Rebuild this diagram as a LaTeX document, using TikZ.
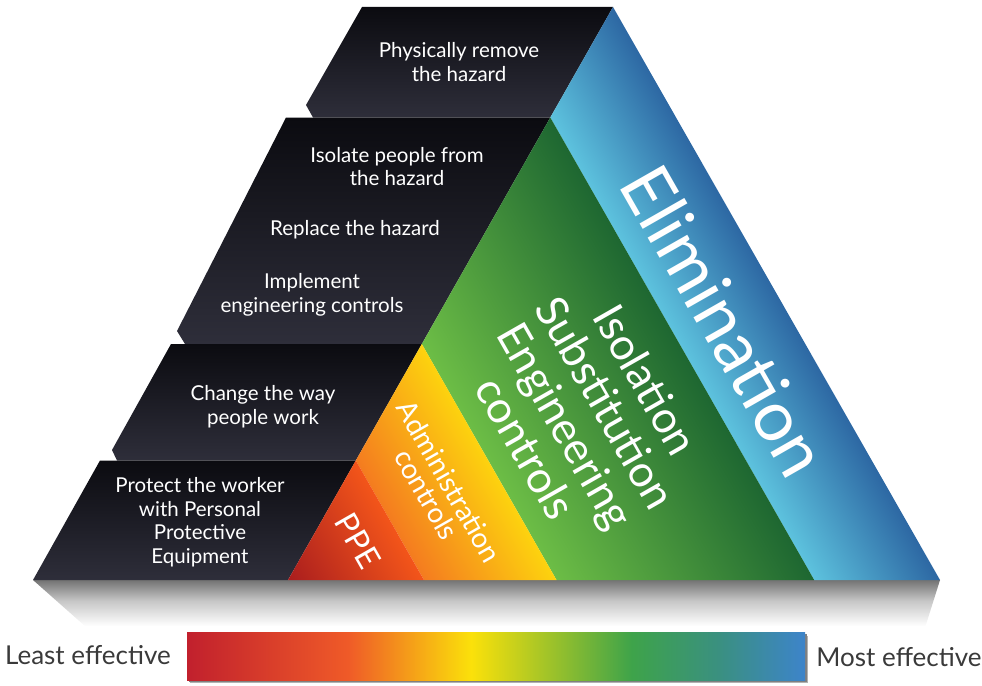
\documentclass[tikz,border=0pt]{standalone}
\usepackage{fontspec}
\setmainfont{Lato}

\definecolor{facetop}{HTML}{0B0B10}
\definecolor{facebot}{HTML}{2E2E3A}
\definecolor{elimin}{HTML}{5EC4DF}
\definecolor{elimout}{HTML}{2C66A2}
\definecolor{engin}{HTML}{6DBE46}
\definecolor{engout}{HTML}{1D6631}
\definecolor{admin}{HTML}{F47A20}
\definecolor{adminout}{HTML}{FDD40E}
\definecolor{ppein}{HTML}{A81C1E}
\definecolor{ppeout}{HTML}{F4561A}
\definecolor{barred}{HTML}{C1202D}
\definecolor{barorange}{HTML}{EF5A28}
\definecolor{baryellow}{HTML}{FBE10A}
\definecolor{bargreen}{HTML}{3EA34A}
\definecolor{barteal}{HTML}{3A9080}
\definecolor{barblue}{HTML}{3D84CA}
\definecolor{labelgray}{HTML}{3A3A3A}

\pgfdeclarehorizontalshading{effbar}{100bp}{color(0bp)=(barred); color(25bp)=(barred);
	color(38bp)=(barorange); color(48bp)=(baryellow); color(61bp)=(bargreen);
	color(68bp)=(barteal); color(75bp)=(barblue); color(100bp)=(barblue)}
\pgfdeclareverticalshading{baseshadow}{100bp}{color(0bp)=(white); color(42bp)=(white);
	color(60bp)=(black!22); color(75bp)=(black!55); color(100bp)=(black!55)}

\begin{document}
\begin{tikzpicture}[x=1pt,y=-1pt,
		darkface/.style={top color=facetop,bottom color=facebot},
		facetext/.style={text=white,align=center,font=\fontsize{20.5}{23.5}\selectfont},
		bandtext/.style={text=white,align=center,rotate=-60.3,inner sep=0pt},
		endtext/.style={text=labelgray,font=\fontsize{26}{30}\selectfont}]
		
		\useasboundingbox (0,0) rectangle (982,685);
		
		% shadow under the base
		\shade[shading=baseshadow] (33,580) -- (940,580) -- (918,650) -- (112,650) -- cycle;
		
		% dark side faces
		\shade[darkface] (362,7) -- (613,7) -- (550.3,117.5) -- (313,117.5) -- (306,105) -- cycle;
		\shade[darkface] (286,117.5) -- (550.3,117.5) -- (421.8,344) -- (185,344) -- (177,331) -- cycle;
		\shade[darkface] (171,344) -- (421.8,344) -- (355.8,460.5) -- (117,460.5) -- (112,450) -- cycle;
		\shade[darkface] (100,460.5) -- (355.8,460.5) -- (288,580) -- (33,580) -- cycle;
		
		% front bands
		\begin{scope}
			\clip (613,7) -- (940,580) -- (814.2,580) -- (550.3,117.5) -- cycle;
			\shade[bottom color=elimin,top color=elimout,transform canvas={shift={(550.3,117.5)},rotate=-60.3}] (-80pt,-2pt) rectangle (610pt,111pt);
		\end{scope}
		\begin{scope}
			\clip (550.3,117.5) -- (814.2,580) -- (556.5,580) -- (421.8,344) -- cycle;
			\shade[bottom color=engin,top color=engout,transform canvas={shift={(421.8,344)},rotate=-60.3}] (-140pt,-2pt) rectangle (410pt,226pt);
		\end{scope}
		\begin{scope}
			\clip (421.8,344) -- (556.5,580) -- (424,580) -- (355.8,460.5) -- cycle;
			\shade[bottom color=admin,top color=adminout,transform canvas={shift={(355.8,460.5)},rotate=-60.3}] (-75pt,-2pt) rectangle (210pt,117pt);
		\end{scope}
		\begin{scope}
			\clip (355.8,460.5) -- (424,580) -- (288,580) -- cycle;
			\shade[bottom color=ppein,top color=ppeout,transform canvas={shift={(288,580)},rotate=-60.3}] (-75pt,-2pt) rectangle (140pt,120pt);
		\end{scope}
		
		\node[facetext] (remove) at (459,62) {Physically remove\\the hazard};
		\node[facetext] (isolate) at (397,166.5) {Isolate people from\\the hazard};
		\node[facetext] (replace) at (355,230) {Replace the hazard};
		\node[facetext] (implement) at (312,295) {Implement\\engineering controls};
		\node[facetext] (change) at (263,406.5) {Change the way\\people work};
		\node[facetext] (protect) at (200,522) {Protect the worker\\with Personal\\Protective\\Equipment};
		
		\node[bandtext,font=\fontsize{70}{70}\selectfont] (elim) at (725,321) {Elimination};
		\node[bandtext,font=\fontsize{44}{46}\selectfont] (iso) at (586,414) {Isolation\\Substitution\\Engineering\\controls};
		\node[bandtext,font=\fontsize{28}{26}\selectfont] (adm) at (438,488) {Administration\\controls};
		\node[bandtext,font=\fontsize{32}{32}\selectfont] (ppe) at (358,541) {PPE};
		
		% effectiveness bar
		\fill[black!30] (190,636) rectangle (808,683);
		\fill[black!50] (189,634) rectangle (807,682);
		\shade[shading=effbar] (187,632) rectangle (805,680);
		\node[endtext] (least) at (88,655) {Least effective};
		\node[endtext] (most) at (899,657) {Most effective};
		
	\end{tikzpicture}
\end{document}
